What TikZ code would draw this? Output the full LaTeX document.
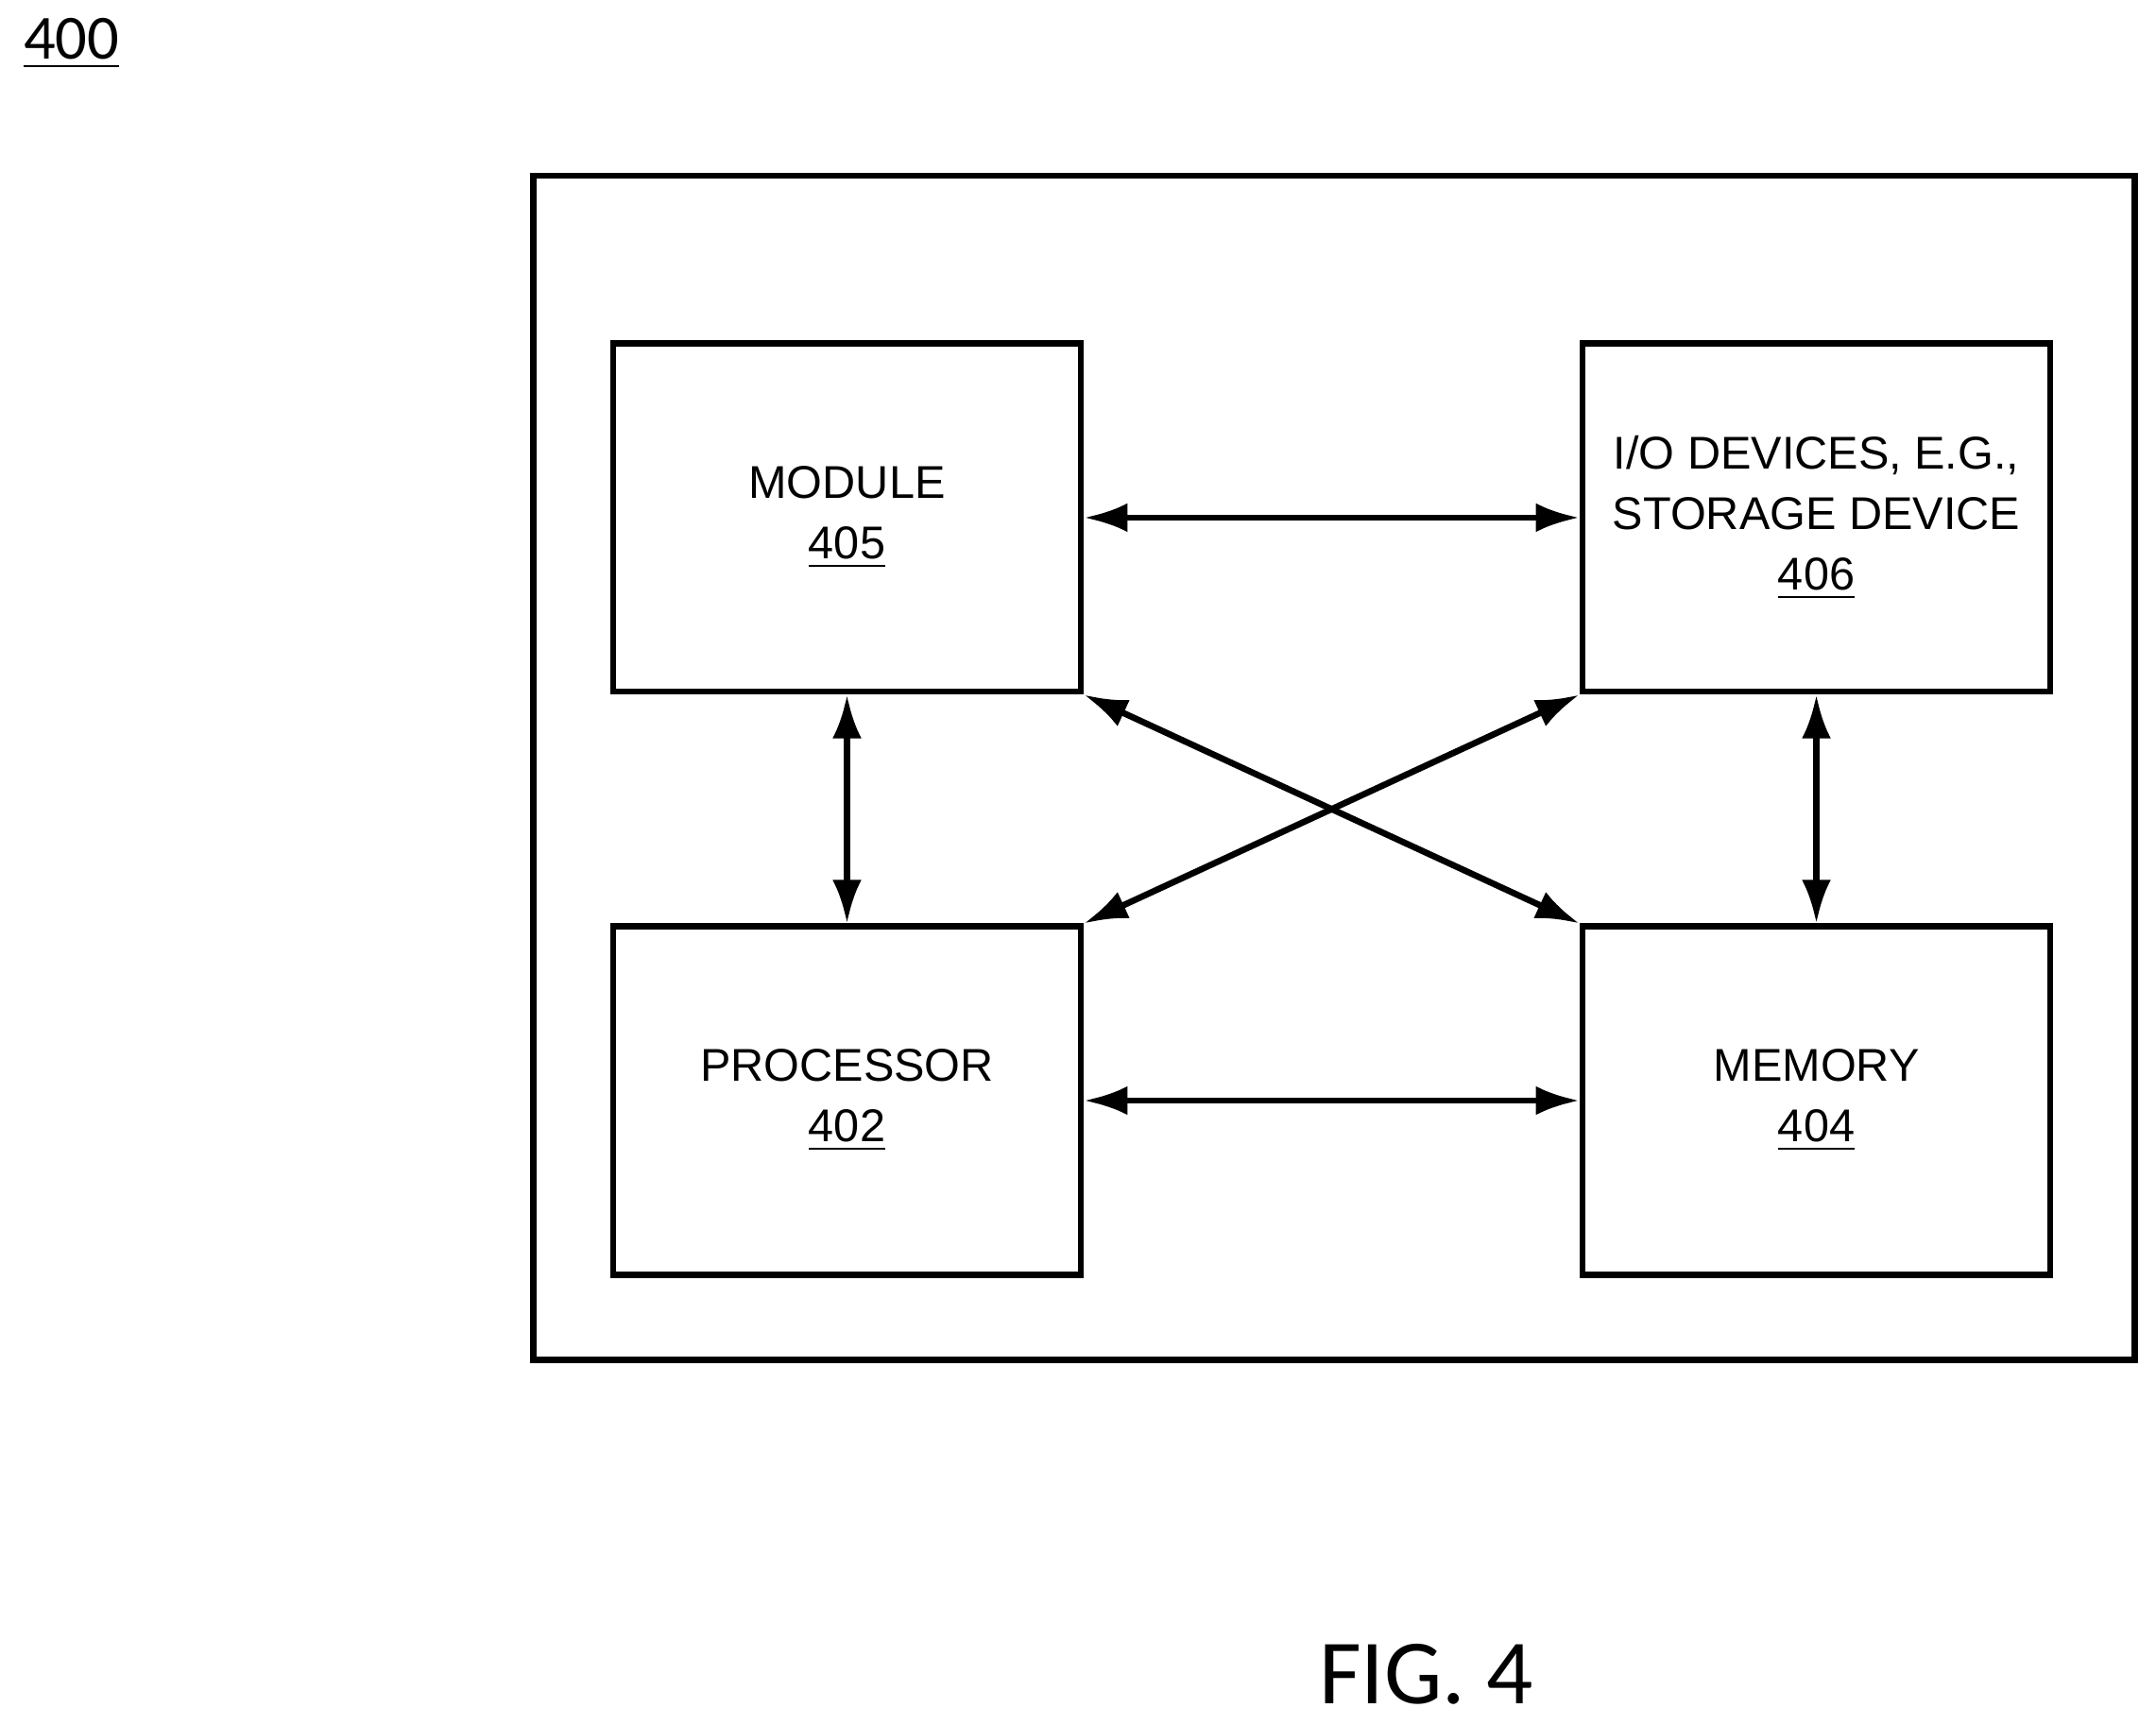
\documentclass[tikz,border=0pt]{standalone}
\usepackage{fontspec}
\setmainfont{Liberation Sans}
\newfontfamily\calfont{Carlito}
\usetikzlibrary{arrows.meta}
\begin{document}
\begin{tikzpicture}[x=0.01cm,y=-0.01cm,
  box/.style={draw,line width=1.3pt,minimum width=3.4cm,minimum height=2.53cm,align=center,font=\fontsize{9.5pt}{12.5pt}\selectfont,inner sep=0},
  arr/.style={line width=1.3pt,{Latex[length=9pt,width=6pt]}-{Latex[length=9pt,width=6pt]}}]
\useasboundingbox (0,0) rectangle (1568,1254);
\node[draw,line width=1.3pt,minimum width=11.64cm,minimum height=8.61cm,inner sep=0] (outer) at (970,558.5) {};
\node[box] (mod) at (616,376.5) {MODULE\\\underline{405}};
\node[box] (io) at (1321,376.5) {I/O DEVICES, E.G.,\\STORAGE DEVICE\\\underline{406}};
\node[box] (proc) at (616,800.5) {PROCESSOR\\\underline{402}};
\node[box] (mem) at (1321,800.5) {MEMORY\\\underline{404}};
\draw[arr] (mod.east) -- (io.west);
\draw[arr] (proc.east) -- (mem.west);
\draw[arr] (mod.south) -- (proc.north);
\draw[arr] (io.south) -- (mem.north);
\draw[arr] (mod.south east) -- (mem.north west);
\draw[arr] (io.south west) -- (proc.north east);
\node[font=\calfont\fontsize{13pt}{15pt}\selectfont] (lbl) at (52,32) {\underline{400}};
\node[font=\calfont\fontsize{19pt}{22pt}\selectfont] (fig) at (1037,1218) {FIG. 4};
\end{tikzpicture}
\end{document}
